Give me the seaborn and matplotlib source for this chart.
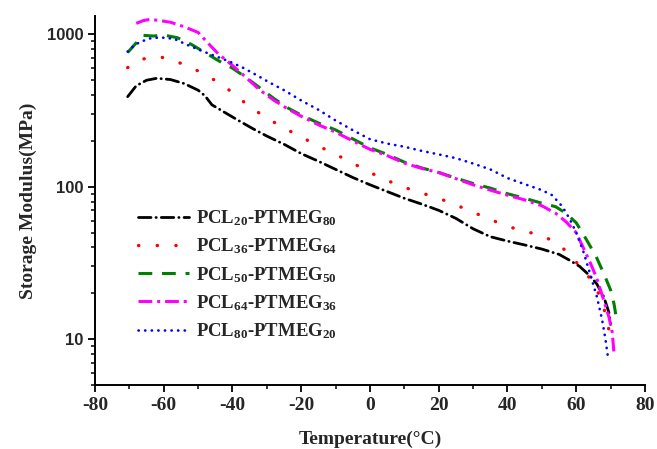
import numpy as np
import pandas as pd
import matplotlib
matplotlib.use("Agg")
import matplotlib.pyplot as plt
from matplotlib.ticker import MultipleLocator, LogLocator, NullFormatter, FixedLocator
import seaborn as sns

# ---- data (temperature in C, storage modulus in MPa) ----
t_20_80 = [-70.5, -68, -65, -62, -58, -54, -50, -48, -46, -42, -38, -34, -30, -25, -20, -15,
           -10, -5, 0, 5, 10, 15, 20, 25, 30, 35, 40, 45, 50, 55, 58, 61, 64, 66, 68, 69.5, 70]
e_20_80 = [390, 460, 500, 515, 505, 475, 430, 395, 345, 305, 270, 240, 215, 190, 165, 147,
           130, 115, 103, 93, 84, 77, 70, 62, 53, 47, 44, 41.5, 39, 36, 33, 30, 26, 23, 19, 15, 12.5]

t_36_64 = [-70.5, -67, -63, -59, -55, -51, -47, -43, -40, -35, -30, -25, -20, -15, -10, -5,
           0, 5, 10, 15, 20, 25, 30, 35, 40, 45, 50, 54, 57, 60, 63, 65.5, 67.5, 69, 70]
e_36_64 = [605, 680, 715, 700, 645, 590, 530, 465, 415, 335, 282, 243, 212, 185, 163, 143,
           124, 110, 99, 91, 84, 76, 68, 61, 55, 51, 48, 43, 38, 32, 27, 22, 18, 13, 10.2]

t_50_50 = [-70.5, -68, -66, -63, -60, -56, -52, -48, -44, -40, -36, -32, -28, -24, -20, -15,
           -10, -5, 0, 5, 10, 15, 20, 25, 30, 35, 40, 45, 50, 54, 57, 60, 62, 64, 66, 68, 70, 71, 71.5]
e_50_50 = [760, 880, 985, 975, 990, 950, 860, 760, 670, 600, 520, 445, 380, 330, 295, 262,
           236, 206, 180, 163, 145, 133, 124, 114, 105, 98, 90, 84, 78, 74, 67, 58, 49, 41, 34, 27, 21, 17, 14.5]

t_64_36 = [-68, -66, -64, -61, -58, -54, -50, -47, -44, -40, -36, -32, -28, -24, -20, -15,
           -10, -5, 0, 5, 10, 15, 20, 25, 30, 35, 40, 45, 50, 54, 57, 60, 62, 64, 66, 68, 69.5, 70.5, 71]
e_64_36 = [1180, 1230, 1255, 1230, 1200, 1120, 1030, 870, 740, 625, 520, 430, 370, 325, 290, 255,
           228, 200, 176, 160, 143, 132, 124, 113, 103, 95, 88, 82, 75, 67, 59, 50, 40, 32, 25, 18, 14, 11, 8]

t_80_20 = [-70.5, -69, -67, -64, -61, -57, -53, -49, -45, -41, -37, -33, -29, -25, -20, -15,
           -10, -5, 0, 5, 10, 15, 20, 25, 30, 35, 40, 45, 50, 53, 56, 58, 60, 62, 64, 66, 67.5, 68.5, 69.2]
e_80_20 = [770, 830, 890, 940, 955, 935, 850, 780, 720, 665, 605, 540, 480, 430, 368, 320,
           272, 235, 205, 192, 183, 172, 163, 154, 142, 130, 114, 104, 95, 88, 74, 62, 50, 38, 27, 19, 13.5, 10, 7.7]

labels = ["PCL$_{20}$-PTMEG$_{80}$", "PCL$_{36}$-PTMEG$_{64}$", "PCL$_{50}$-PTMEG$_{50}$",
          "PCL$_{64}$-PTMEG$_{36}$", "PCL$_{80}$-PTMEG$_{20}$"]
temps = [t_20_80, t_36_64, t_50_50, t_64_36, t_80_20]
moduli = [e_20_80, e_36_64, e_50_50, e_64_36, e_80_20]

colors = ["black", "red", "green", "magenta", "blue"]
styles = [(0, (4.5, 1.8, 0.1, 1.8)), (0, (0.1, 5.5)), (0, (4.5, 3.2)),
          (0, (4.5, 1.6, 1.0, 1.6)), (0, (0.1, 2.4))]
widths = [2.0, 2.4, 2.2, 2.2, 1.9]
caps = ["round", "round", "butt", "butt", "round"]

frames = []
for lab, t, e in zip(labels, temps, moduli):
    frames.append(pd.DataFrame({"T": t, "E": e, "sample": lab}))
df = pd.concat(frames, ignore_index=True)

sns.set_style("ticks")
plt.rcParams["axes.unicode_minus"] = False
plt.rcParams["mathtext.fontset"] = "custom"
plt.rcParams["mathtext.rm"] = "Liberation Serif:bold"
plt.rcParams["mathtext.it"] = "Liberation Serif:bold"
plt.rcParams["mathtext.bf"] = "Liberation Serif:bold"

fig = plt.figure(figsize=(6.57, 4.49), dpi=100)
ax = fig.add_axes([0.1446, 0.1425, 0.8371, 0.8219])

for lab, col, ls, lw, cap in zip(labels, colors, styles, widths, caps):
    sub = df[df["sample"] == lab]
    sns.lineplot(data=sub, x="T", y="E", ax=ax, color=col, linestyle=ls, linewidth=lw,
                 dash_capstyle=cap, sort=False, estimator=None, label=lab)

ax.set_yscale("log")
ax.set_xlim(-80, 80)
ax.set_ylim(5, 1320)
ax.xaxis.set_major_locator(MultipleLocator(20))
ax.xaxis.set_minor_locator(MultipleLocator(10))
ax.yaxis.set_major_locator(FixedLocator([10, 100, 1000]))
ax.yaxis.set_minor_locator(LogLocator(base=10, subs=np.arange(2, 10)))
ax.yaxis.set_minor_formatter(NullFormatter())
ax.set_yticklabels(["10", "100", "1000"])

for s in ["top", "right"]:
    ax.spines[s].set_visible(False)
for s in ["left", "bottom"]:
    ax.spines[s].set_linewidth(1.4)
    ax.spines[s].set_color("black")
ax.tick_params(which="major", direction="out", length=5, width=1.3, color="black")
ax.tick_params(which="minor", direction="out", length=3, width=1.1, color="black")

for lbl in ax.get_xticklabels():
    lbl.set_fontfamily("Liberation Serif")
    lbl.set_fontweight("bold")
    lbl.set_fontsize(14)
for lbl in ax.get_yticklabels():
    lbl.set_fontfamily("Liberation Sans")
    lbl.set_fontweight("bold")
    lbl.set_fontsize(12)

ax.set_xlabel("Temperature(°C)", fontfamily="Liberation Serif", fontweight="bold", fontsize=14, labelpad=12)
ax.set_ylabel("Storage Modulus(MPa)", fontfamily="Liberation Serif", fontweight="bold", fontsize=14, labelpad=7)

leg = ax.legend(loc="upper left", bbox_to_anchor=(0.078, 0.478), frameon=False,
                handlelength=2.75, handletextpad=0.35, labelspacing=0.45,
                borderpad=0, borderaxespad=0,
                prop={"family": "Liberation Serif", "weight": "bold", "size": 13.5})

fig.savefig("out.png", dpi=100)
